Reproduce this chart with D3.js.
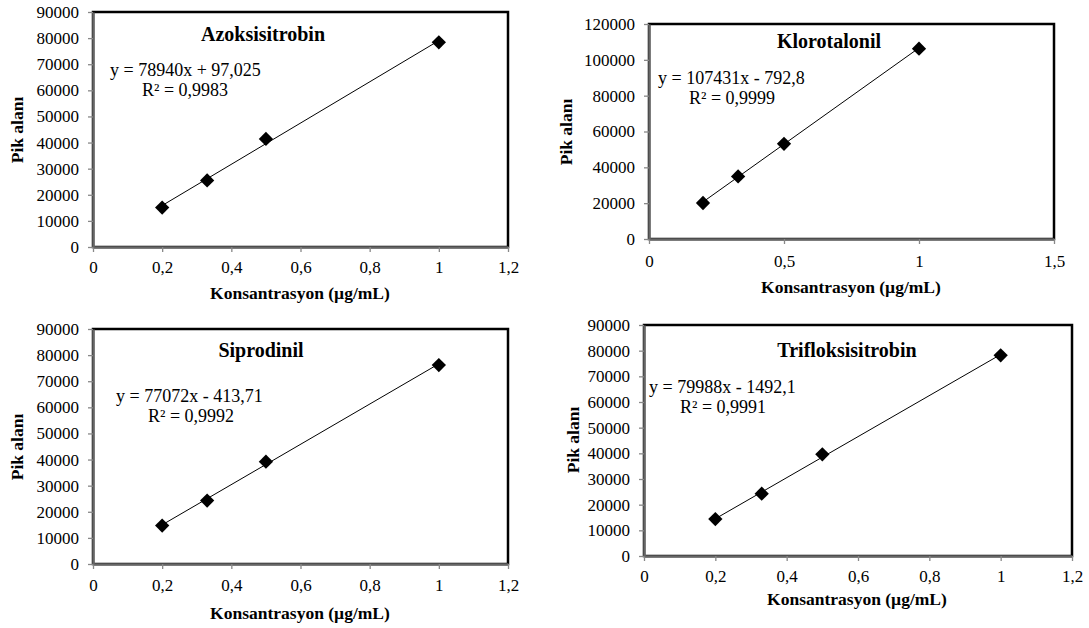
<!DOCTYPE html>
<html>
<head>
<meta charset="utf-8">
<script src="https://cdn.jsdelivr.net/npm/d3@7"></script>
<style>
  body { margin: 0; background: #fff; }
  text { font-family: "Liberation Serif", "Times New Roman", serif; fill: #000; }
</style>
</head>
<body>
<div id="chart"></div>
<script>
// Veriler
const konsantrasyon = [0.2, 0.33, 0.5, 1];
const maddeler = ['Azoksisitrobin', 'Klorotalonil', 'Siprodinil', 'Trifloksisitrobin'];
const azoksisitrobin = [15100, 25500, 41400, 78400];
const klorotalonil = [20100, 34900, 53100, 106200];
const siprodinil = [14700, 24300, 39200, 76200];
const trifloksisitrobin = [14400, 24300, 39600, 78200];
const egimler = [78940, 107431, 77072, 79988];
const kesimler = [97.025, -792.8, -413.71, -1492.1];
const denklemler = ['y = 78940x + 97,025', 'y = 107431x - 792,8', 'y = 77072x - 413,71', 'y = 79988x - 1492,1'];
const r2 = ['R² = 0,9983', 'R² = 0,9999', 'R² = 0,9992', 'R² = 0,9991'];
const xTicksA = [0, 0.2, 0.4, 0.6, 0.8, 1, 1.2];
const xTicksB = [0, 0.5, 1, 1.5];
const yTicksA = [0, 10000, 20000, 30000, 40000, 50000, 60000, 70000, 80000, 90000];
const yTicksB = [0, 20000, 40000, 60000, 80000, 100000, 120000];

const seriler = [azoksisitrobin, klorotalonil, siprodinil, trifloksisitrobin];
const xTickSets = [xTicksA, xTicksB, xTicksA, xTicksA];
const yTickSets = [yTicksA, yTicksB, yTicksA, yTicksA];

// Panel yerleşimi (piksel)
const paneller = [
  { l: 93, r: 508, t: 12, b: 247, title: [263, 41], eq: [110, 76], r2: [142, 96], ylab: [17, 130], xlab: [300, 299], xt: 269 },
  { l: 649, r: 1054, t: 24, b: 239, title: [829, 48], eq: [658, 84], r2: [689, 104], ylab: [566, 132], xlab: [851, 293], xt: 263 },
  { l: 93, r: 508, t: 329, b: 564, title: [261, 357], eq: [116, 402], r2: [148, 422], ylab: [17, 447], xlab: [300, 619], xt: 587 },
  { l: 644, r: 1072, t: 325, b: 556, title: [847, 357], eq: [649, 393], r2: [680, 413], ylab: [573, 440], xlab: [857, 605], xt: 578 }
];

const virgul = d => String(d).replace('.', ',');

const svg = d3.select('#chart').append('svg')
  .attr('width', 1089)
  .attr('height', 628);

svg.append('rect').attr('width', 1089).attr('height', 628).attr('fill', '#fff');

paneller.forEach((p, i) => {
  const xt = xTickSets[i], yt = yTickSets[i];
  const x = d3.scaleLinear().domain([xt[0], xt[xt.length - 1]]).range([p.l, p.r]);
  const y = d3.scaleLinear().domain([yt[0], yt[yt.length - 1]]).range([p.b, p.t]);
  const g = svg.append('g');

  // Çizim alanı çerçevesi
  g.append('rect')
    .attr('x', p.l).attr('y', p.t)
    .attr('width', p.r - p.l).attr('height', p.b - p.t)
    .attr('fill', 'none').attr('stroke', '#000').attr('stroke-width', 2.5);

  // Eksenler
  const xAxis = g.append('g').attr('transform', `translate(0,${p.b})`)
    .call(d3.axisBottom(x).tickValues(xt).tickFormat(virgul).tickSizeInner(5).tickSizeOuter(0));
  const yAxis = g.append('g').attr('transform', `translate(${p.l},0)`)
    .call(d3.axisLeft(y).tickValues(yt).tickFormat(d => String(d)).tickSizeInner(5).tickSizeOuter(0));
  [xAxis, yAxis].forEach(a => {
    a.select('.domain').attr('stroke', '#666').attr('stroke-width', 2.5);
    a.selectAll('.tick line').attr('stroke', '#888').attr('stroke-width', 1.3);
    a.selectAll('.tick text').attr('fill', '#000')
      .style('font-family', '"Liberation Serif", serif').style('font-size', '17px');
  });
  xAxis.selectAll('.tick text').attr('dy', null)
    .attr('y', p.xt - p.b).attr('dominant-baseline', 'middle');
  yAxis.selectAll('.tick text').attr('x', -14);

  // Trend çizgisi
  const xs = [konsantrasyon[0], konsantrasyon[konsantrasyon.length - 1]];
  g.append('path')
    .datum(xs.map(v => [v, egimler[i] * v + kesimler[i]]))
    .attr('d', d3.line().x(d => x(d[0])).y(d => y(d[1])))
    .attr('stroke', '#000').attr('stroke-width', 1).attr('fill', 'none');

  // Noktalar
  g.selectAll('.nokta')
    .data(konsantrasyon.map((c, j) => [c, seriler[i][j]]))
    .enter().append('path')
    .attr('transform', d => `translate(${x(d[0])},${y(d[1])})`)
    .attr('d', d3.symbol().type(d3.symbolDiamond2).size(130))
    .attr('fill', '#000');

  // Başlık ve denklem
  g.append('text').attr('x', p.title[0]).attr('y', p.title[1])
    .attr('text-anchor', 'middle').style('font-size', '20px').style('font-weight', 'bold')
    .text(maddeler[i]);
  g.append('text').attr('x', p.eq[0]).attr('y', p.eq[1])
    .style('font-size', '18px').text(denklemler[i]);
  g.append('text').attr('x', p.r2[0]).attr('y', p.r2[1])
    .style('font-size', '18px').text(r2[i]);

  // Eksen başlıkları
  g.append('text').attr('x', p.xlab[0]).attr('y', p.xlab[1])
    .attr('text-anchor', 'middle').style('font-size', '17.5px').style('font-weight', 'bold')
    .text('Konsantrasyon (µg/mL)');
  g.append('text')
    .attr('transform', `translate(${p.ylab[0] + 6},${p.ylab[1]}) rotate(-90)`)
    .attr('text-anchor', 'middle').style('font-size', '17.5px').style('font-weight', 'bold')
    .text('Pik alanı');
});
</script>
</body>
</html>
